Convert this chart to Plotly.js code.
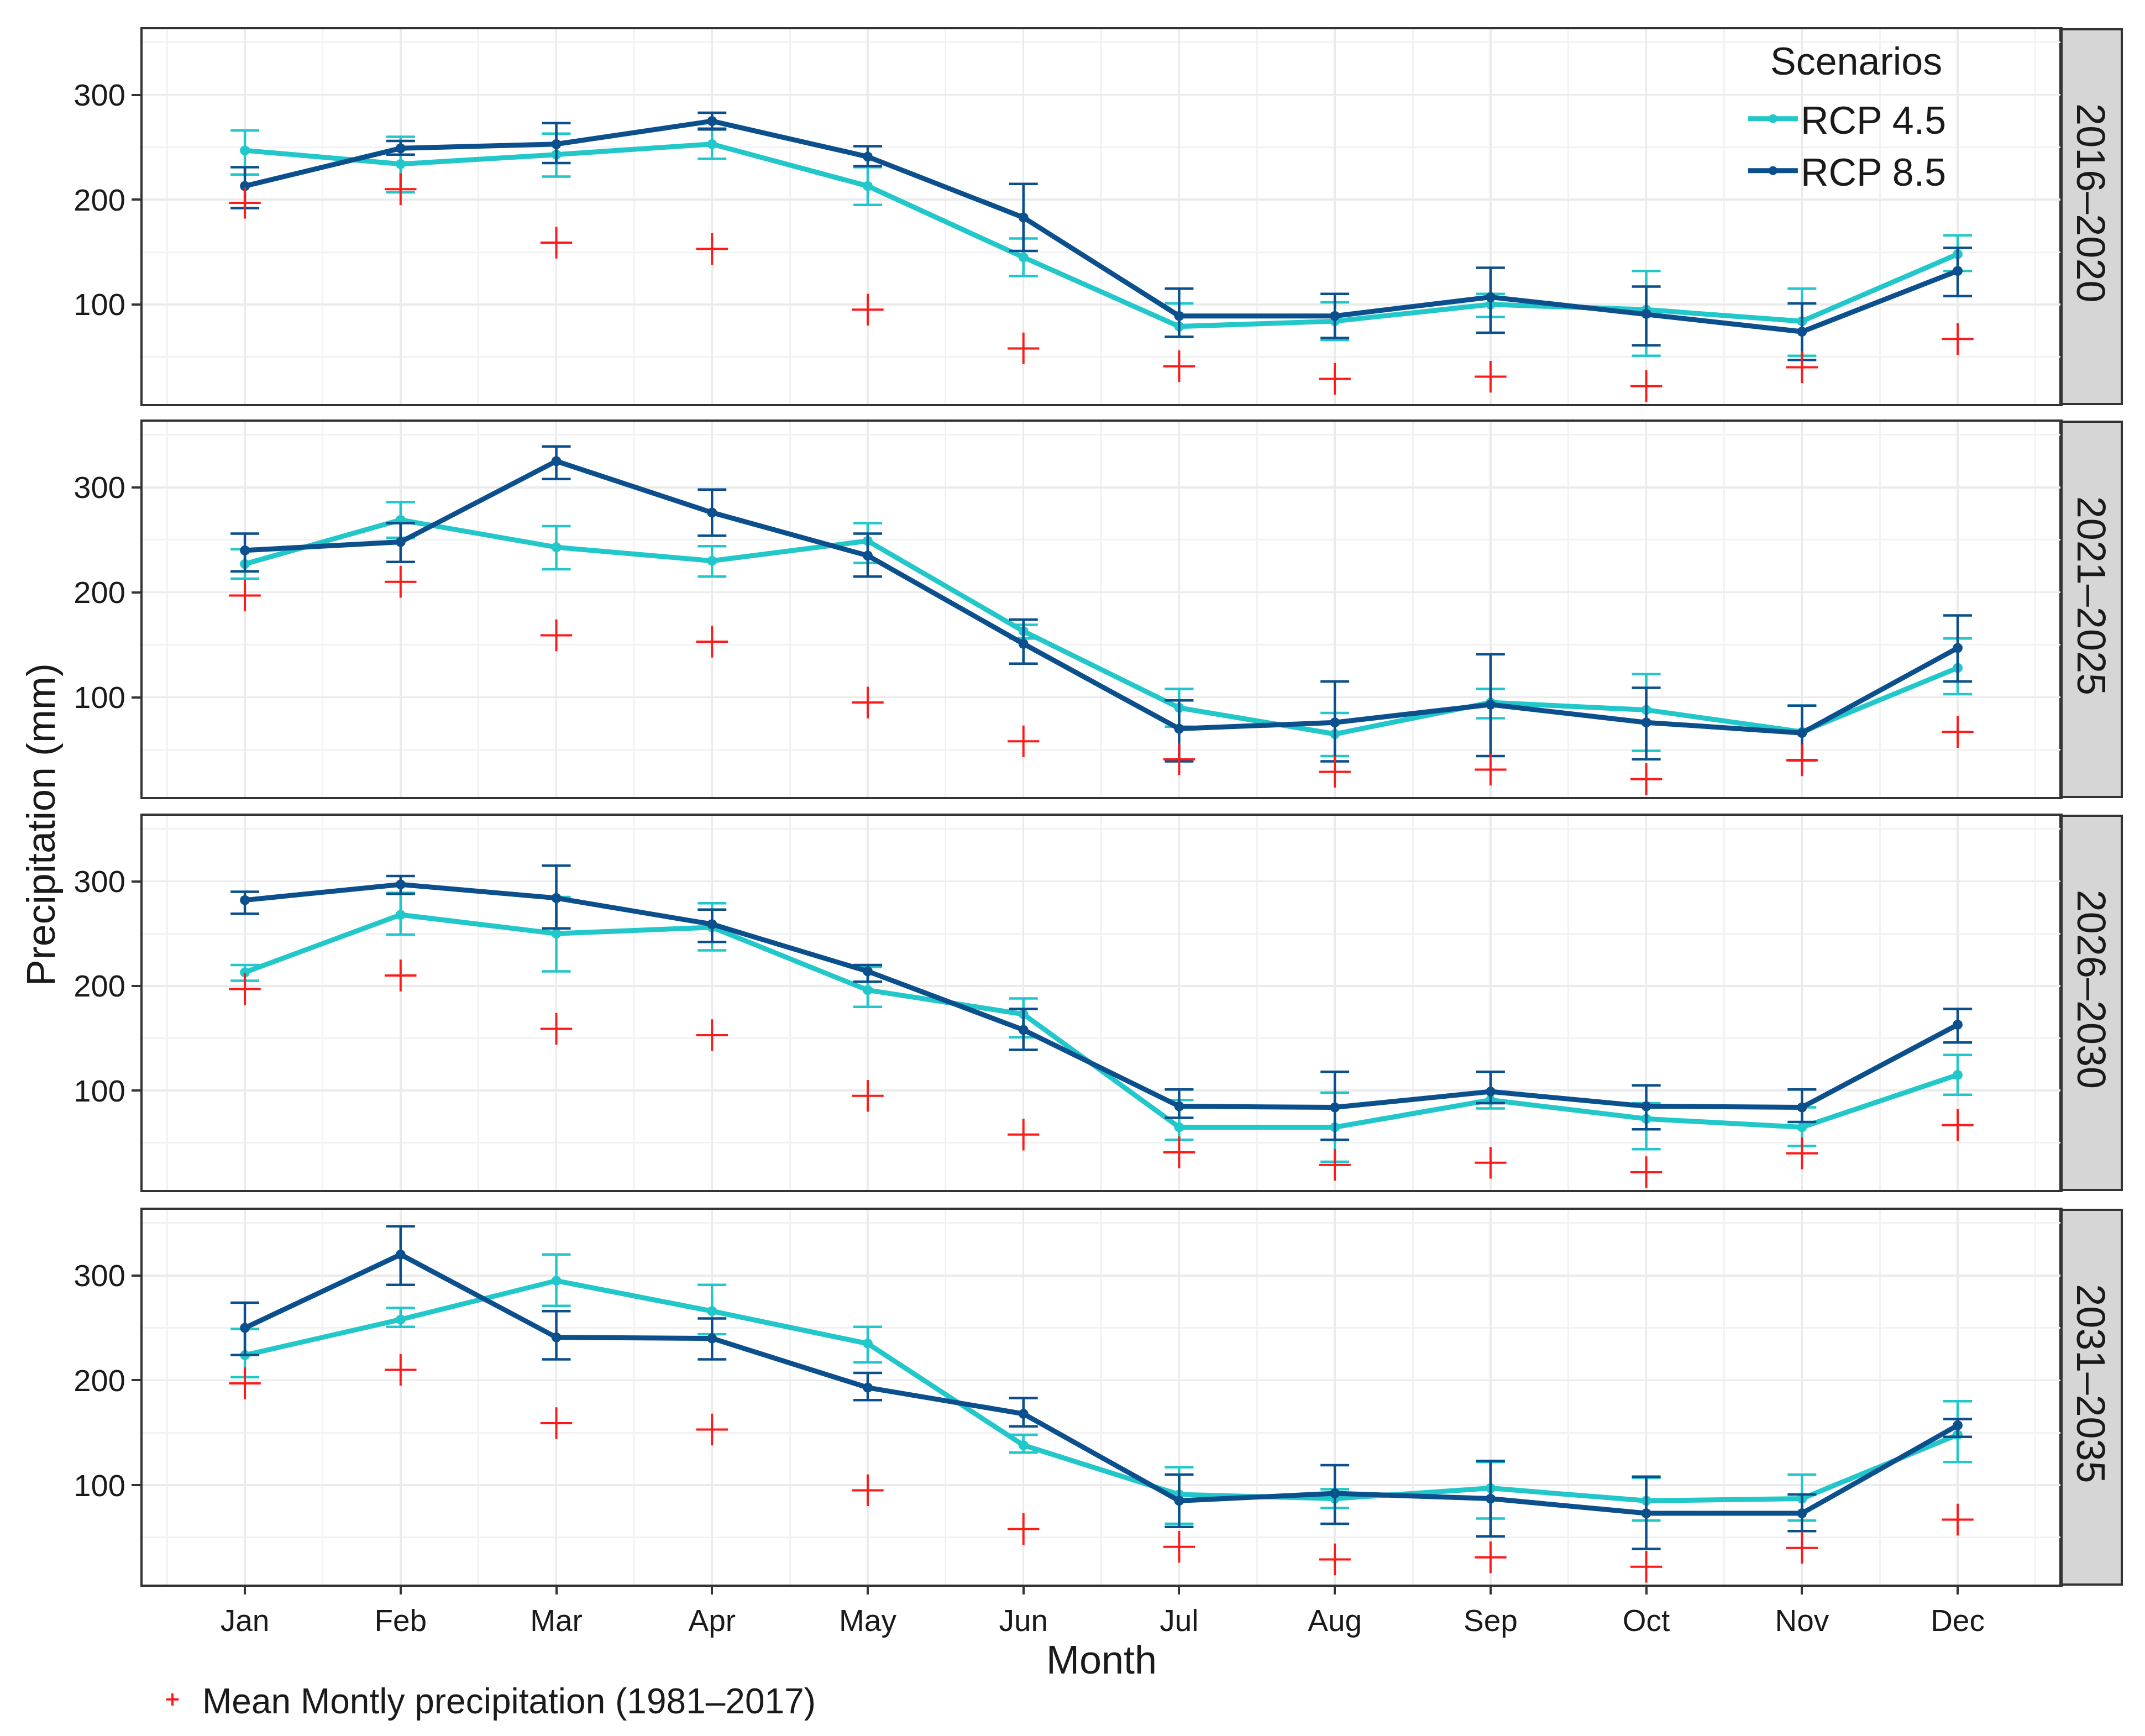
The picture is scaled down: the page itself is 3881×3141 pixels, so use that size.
<!DOCTYPE html>
<html>
<head>
<meta charset="utf-8">
<script src="https://cdn.plot.ly/plotly-3.0.1.min.js"></script>
<style>html,body{margin:0;padding:0;background:#fff;}#chart{width:3881px;height:3141px;}</style>
</head>
<body>
<div id="chart"></div>
<script>
// ---------- DATA ----------
const months = ["Jan","Feb","Mar","Apr","May","Jun","Jul","Aug","Sep","Oct","Nov","Dec"];
const monthIndex = [1,2,3,4,5,6,7,8,9,10,11,12];
const periods = ["2016\u20132020","2021\u20132025","2026\u20132030","2031\u20132035"];

// Observed mean monthly precipitation (1981-2017)
const observed = [197, 210, 159, 153, 95, 58, 41, 29, 31, 22, 40, 67];

// 2016-2020
const rcp45_p1    = [247, 234, 243, 253, 213, 145, 79, 84, 100, 95, 84, 148];
const rcp45_p1_hi = [266, 260, 263, 268, 231, 163, 101, 102, 110, 132, 115, 166];
const rcp45_p1_lo = [224, 207, 222, 239, 195, 127, 69, 66, 88, 51, 51, 132];
const rcp85_p1    = [213, 249, 253, 275, 241, 183, 89, 89, 107, 91, 74, 132];
const rcp85_p1_hi = [231, 256, 273, 283, 251, 215, 115, 110, 135, 117, 101, 154];
const rcp85_p1_lo = [192, 243, 235, 267, 232, 151, 69, 68, 73, 61, 47, 108];

// 2021-2025
const rcp45_p2    = [227, 269, 243, 230, 249, 163, 90, 65, 95, 88, 67, 128];
const rcp45_p2_hi = [241, 286, 263, 244, 266, 169, 108, 85, 108, 122, 92, 156];
const rcp45_p2_lo = [213, 252, 222, 215, 228, 156, 72, 44, 80, 49, 40, 103];
const rcp85_p2    = [240, 248, 325, 276, 235, 151, 70, 76, 93, 76, 66, 147];
const rcp85_p2_hi = [256, 266, 339, 298, 256, 174, 97, 115, 141, 109, 92, 178];
const rcp85_p2_lo = [220, 229, 308, 254, 215, 132, 39, 39, 44, 41, 40, 115];

// 2026-2030
const rcp45_p3    = [213, 268, 250, 256, 196, 173, 65, 65, 91, 73, 65, 115];
const rcp45_p3_hi = [220, 289, 285, 279, 218, 188, 91, 98, 98, 88, 84, 134];
const rcp45_p3_lo = [205, 249, 214, 234, 180, 151, 53, 32, 83, 44, 47, 96];
const rcp85_p3    = [282, 297, 284, 259, 214, 158, 85, 84, 99, 85, 84, 163];
const rcp85_p3_hi = [290, 305, 315, 273, 220, 178, 101, 118, 118, 105, 101, 178];
const rcp85_p3_lo = [269, 288, 255, 242, 204, 139, 74, 53, 88, 63, 70, 146];

// 2031-2035
const rcp45_p4    = [224, 258, 295, 266, 235, 138, 91, 87, 97, 85, 87, 148];
const rcp45_p4_hi = [249, 269, 320, 291, 251, 148, 117, 96, 122, 107, 110, 180];
const rcp45_p4_lo = [203, 251, 271, 244, 217, 131, 63, 78, 68, 66, 66, 122];
const rcp85_p4    = [250, 320, 241, 240, 193, 168, 85, 92, 87, 73, 73, 157];
const rcp85_p4_hi = [274, 347, 266, 259, 207, 183, 110, 119, 123, 108, 91, 163];
const rcp85_p4_lo = [224, 291, 220, 220, 181, 156, 60, 63, 51, 39, 56, 146];

const yTicks = [100, 200, 300];

// ---------- BUILD ----------
const C45 = "#21c7c9", C85 = "#0b4f8c", CRED = "#ff1a1a";
const panels = [
  {r45: rcp45_p1, r45hi: rcp45_p1_hi, r45lo: rcp45_p1_lo, r85: rcp85_p1, r85hi: rcp85_p1_hi, r85lo: rcp85_p1_lo},
  {r45: rcp45_p2, r45hi: rcp45_p2_hi, r45lo: rcp45_p2_lo, r85: rcp85_p2, r85hi: rcp85_p2_hi, r85lo: rcp85_p2_lo},
  {r45: rcp45_p3, r45hi: rcp45_p3_hi, r45lo: rcp45_p3_lo, r85: rcp85_p3, r85hi: rcp85_p3_hi, r85lo: rcp85_p3_lo},
  {r45: rcp45_p4, r45hi: rcp45_p4_hi, r45lo: rcp45_p4_lo, r85: rcp85_p4, r85hi: rcp85_p4_hi, r85lo: rcp85_p4_lo}
];
const domains = [[0.7591, 1.0], [0.5064, 0.7477], [0.2537, 0.4943], [0.0, 0.2409]];

function errObj(v, hi, lo, color) {
  return {type: "data", symmetric: false,
    array: v.map((d, i) => hi[i] - d),
    arrayminus: v.map((d, i) => d - lo[i]),
    color: color, thickness: 4.5, width: 26, visible: true};
}

const traces = [];
const layout = {
  width: 3881, height: 3141,
  paper_bgcolor: "#ffffff", plot_bgcolor: "#ffffff",
  margin: {l: 258, r: 153, t: 53, b: 274},
  font: {family: "Liberation Sans, Arial, sans-serif", size: 55, color: "#1a1a1a"},
  showlegend: true,
  shapes: [], annotations: [],
  legend: {
    x: 0.8357, y: 0.961, xanchor: "left", yanchor: "top",
    bgcolor: "rgba(255,255,255,0)", borderwidth: 0,
    font: {size: 70, color: "#1a1a1a"},
    traceorder: "normal", itemwidth: 90, tracegroupgap: 9
  },
  legend2: {
    x: 0.0, y: -0.074, xanchor: "left", yanchor: "middle",
    bgcolor: "rgba(255,255,255,0)", borderwidth: 0,
    font: {size: 64, color: "#1a1a1a"}, orientation: "h", itemwidth: 98
  }
};

panels.forEach((p, k) => {
  const n = k + 1;
  const xa = "x" + (n === 1 ? "" : n), ya = "y" + (n === 1 ? "" : n);
  const xkey = "xaxis" + (n === 1 ? "" : n), ykey = "yaxis" + (n === 1 ? "" : n);
  const last = (k === panels.length - 1);

  traces.push({
    x: monthIndex, y: p.r45, xaxis: xa, yaxis: ya, type: "scatter", mode: "lines+markers",
    name: "RCP 4.5", legendgroup: "r45", showlegend: k === 0, legend: "legend",
    line: {color: C45, width: 9}, marker: {color: C45, size: 18, symbol: "circle"},
    error_y: errObj(p.r45, p.r45hi, p.r45lo, C45)
  });
  traces.push({
    x: monthIndex, y: p.r85, xaxis: xa, yaxis: ya, type: "scatter", mode: "lines+markers",
    name: "RCP 8.5", legendgroup: "r85", showlegend: k === 0, legend: "legend",
    line: {color: C85, width: 9}, marker: {color: C85, size: 18, symbol: "circle"},
    error_y: errObj(p.r85, p.r85hi, p.r85lo, C85)
  });
  traces.push({
    x: monthIndex, y: observed, xaxis: xa, yaxis: ya, type: "scatter", mode: "markers",
    name: "Mean Montly precipitation (1981\u20132017)", legendgroup: "obs", showlegend: k === 0, legend: "legend2",
    marker: {symbol: "cross-thin", size: 41, color: CRED, line: {color: CRED, width: 4}}
  });

  layout[xkey] = {
    domain: [0, 1], anchor: ya, range: [0.343, 12.66],
    tickmode: "array", tickvals: monthIndex, ticktext: months,
    showticklabels: last, ticks: last ? "outside" : "", ticklen: 14, tickwidth: 4, tickcolor: "#333333",
    tickfont: {size: 55, color: "#1a1a1a"},
    showgrid: true, gridcolor: "#ebebeb", gridwidth: 3.5,
    minor: {tickmode: "linear", tick0: 0.5, dtick: 1, showgrid: true, gridcolor: "#f2f2f2", gridwidth: 3, ticks: ""},
    zeroline: false, showline: true, mirror: true, linecolor: "#333333", linewidth: 4,
    title: last ? {text: "Month", font: {size: 72, color: "#1a1a1a"}, standoff: 8} : {text: ""}
  };
  layout[ykey] = {
    domain: domains[k], anchor: xa, range: [5, 362.6],
    tickmode: "array", tickvals: yTicks, ticktext: yTicks.map(String),
    ticks: "outside", ticklen: 16, tickwidth: 4, tickcolor: "#333333",
    tickfont: {size: 56, color: "#1a1a1a"},
    showgrid: true, gridcolor: "#ebebeb", gridwidth: 3.5,
    minor: {tickmode: "linear", tick0: 50, dtick: 100, showgrid: true, gridcolor: "#f2f2f2", gridwidth: 3, ticks: ""},
    zeroline: false, showline: true, mirror: true, linecolor: "#333333", linewidth: 4
  };

  // facet strip
  layout.shapes.push({type: "rect", xref: "paper", yref: "paper",
    x0: 1.0, x1: 1.032, y0: domains[k][0], y1: domains[k][1],
    fillcolor: "#d6d6d6", line: {color: "#333333", width: 4}, layer: "below"});
  layout.annotations.push({xref: "paper", yref: "paper", x: 1.016, y: (domains[k][0] + domains[k][1]) / 2 + 0.009,
    text: periods[k], showarrow: false, textangle: 90, xanchor: "center", yanchor: "middle",
    font: {size: 72, color: "#1a1a1a"}});
});

// legend title
layout.annotations.push({xref: "paper", yref: "paper", x: 0.848, y: 0.9794,
  text: "Scenarios", showarrow: false, xanchor: "left", yanchor: "middle",
  font: {size: 70, color: "#1a1a1a"}});

layout.annotations.push({xref: "paper", yref: "paper", x: -0.053, y: 0.4886,
  text: "Precipitation (mm)", showarrow: false, textangle: -90, xanchor: "center", yanchor: "middle",
  font: {size: 72, color: "#1a1a1a"}});

Plotly.newPlot("chart", traces, layout, {displayModeBar: false, staticPlot: true});
</script>
</body>
</html>
